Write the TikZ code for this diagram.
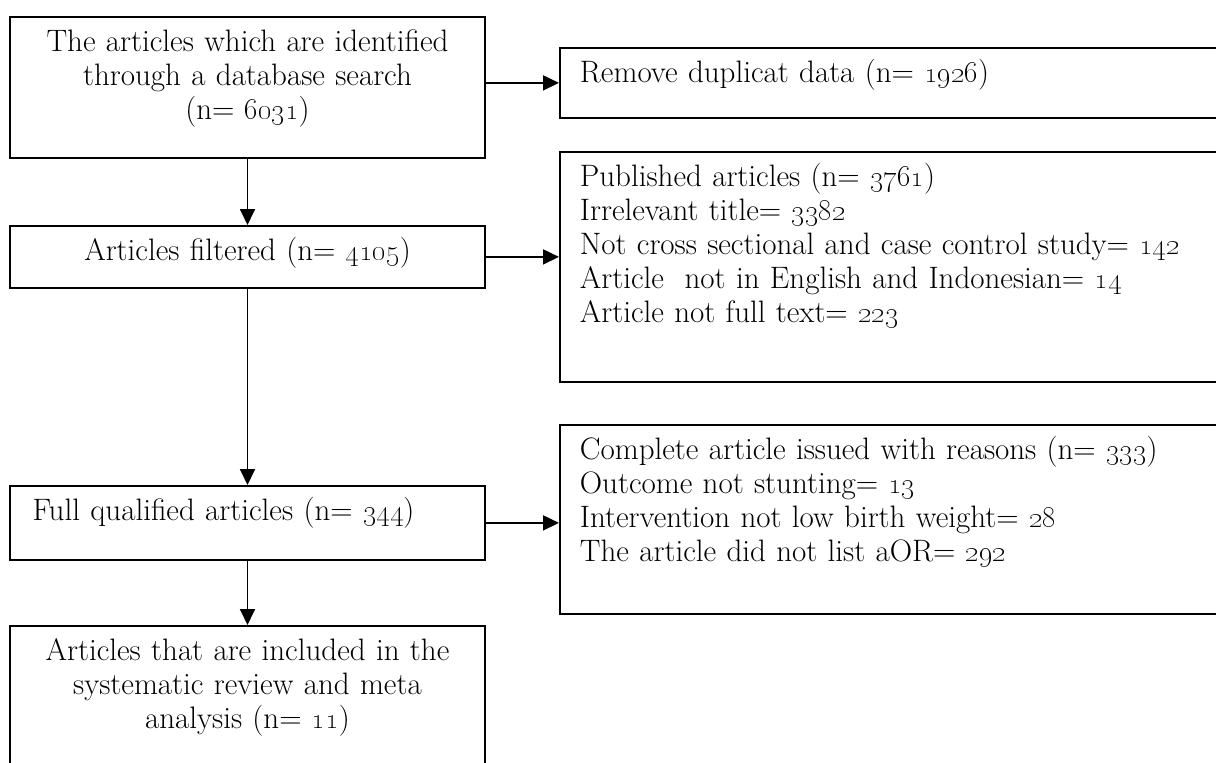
\documentclass[tikz,border=0pt]{standalone}
\usetikzlibrary{arrows.meta}
\tikzset{
	box/.style={draw, line width=1.8pt, inner xsep=17pt, inner ysep=14pt, text height=21pt, font=\fontsize{31}{34}\selectfont},
	flow/.style={line width=1.8pt, -{Triangle[length=16pt,width=15pt]}}
}
\newcommand{\osn}[1]{\oldstylenums{#1}}

\begin{document}
\begin{tikzpicture}[x=1pt,y=-1pt]
		%%%%% START %%%%%
		\clip (0,0) rectangle (1216,763);
		
		\node[box, anchor=north, text width=441pt, align=center, text depth=92pt] (found) at (247.5,16) {The articles which are identified\\ through a database search\\ (n= \osn{6031})};
		\node[box, anchor=north, text width=441pt, align=center, text depth=13pt] (filtered) at (247.5,225) {Articles filtered (n= \osn{4105})};
		\node[box, anchor=north, text width=436pt, inner xsep=19.5pt, align=left, text depth=25pt] (qualified) at (247.5,485) {\hspace*{3pt}Full qualified articles (n= \osn{344})};
		\node[box, anchor=north, text width=441pt, align=center, text depth=121pt] (included) at (247.5,625) {Articles that are included in the\\ systematic review and meta\\ analysis (n= \osn{11})};
		
		\node[box, anchor=north west, text width=680pt, inner xsep=20pt, align=left, text depth=21pt] (duplicate) at (559,47) {Remove duplicat data (n= \osn{1926})};
		\node[box, anchor=north west, text width=680pt, inner xsep=20pt, align=left, text depth=181pt] (excluded) at (559,151) {Published articles (n= \osn{3761})\\ Irrelevant title= \osn{3382}\\ Not cross sectional and case control study= \osn{142}\\ Article\ \ not in English and Indonesian= \osn{14}\\ Article not full text= \osn{223}};
		\node[box, anchor=north west, text width=680pt, inner xsep=20pt, align=left, text depth=140pt] (issued) at (559,424) {Complete article issued with reasons (n= \osn{333})\\ Outcome not stunting= \osn{13}\\ Intervention not low birth weight= \osn{28}\\ The article did not list aOR= \osn{292}};
		
		\draw[flow] (found) -- (filtered);
		\draw[flow] (filtered) -- (qualified);
		\draw[flow] (qualified) -- (included);
		
		\draw[flow] (found.east |- duplicate.west) -- (duplicate.west);
		\draw[flow] (filtered.east) -- (filtered.east -| excluded.west);
		\draw[flow] (qualified.east) -- (qualified.east -| issued.west);
		
		%%%%% END %%%%%
\end{tikzpicture}
\end{document}
